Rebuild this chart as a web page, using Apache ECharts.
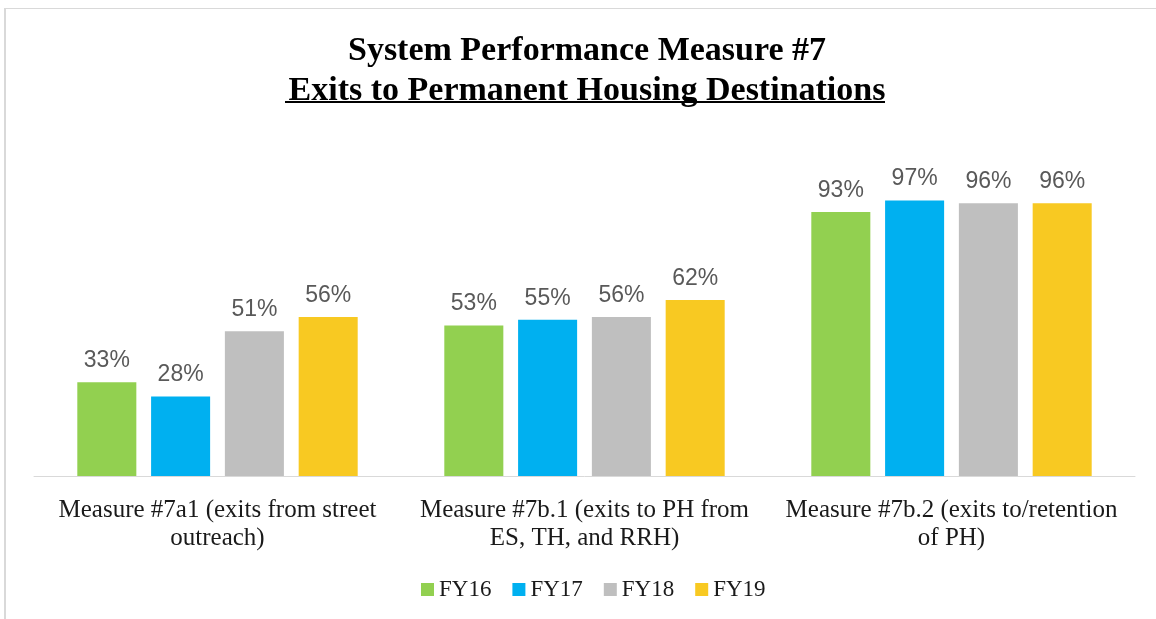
<!DOCTYPE html>
<html><head><meta charset="utf-8">
<script src="https://cdn.jsdelivr.net/npm/echarts@6/dist/echarts.min.js"></script>
<style>html,body{margin:0;padding:0;background:#fff}#c{width:1156px;height:619px}</style>
</head><body><div id="c"></div>
<script>
const categories = [
  "Measure #7a1 (exits from street\noutreach)",
  "Measure #7b.1 (exits to PH from\nES, TH, and RRH)",
  "Measure #7b.2 (exits to/retention\nof PH)"
];
const seriesNames = ["FY16", "FY17", "FY18", "FY19"];
const fy16 = [33, 53, 93];
const fy17 = [28, 55, 97];
const fy18 = [51, 56, 96];
const fy19 = [56, 62, 96];
const colors = ["#92D050", "#00B0F0", "#BFBFBF", "#F8C922"];
const titleLine1 = "System Performance Measure #7";
const titleLine2 = "Exits to Permanent Housing Destinations";

const values = [fy16, fy17, fy18, fy19];
const chart = echarts.init(document.getElementById('c'));
chart.setOption({
  animation: false,
  backgroundColor: '#fff',
  title: {
    text: titleLine1 + "\n" + titleLine2,
    left: 582, top: 26, textAlign: 'center',
    textStyle: { fontFamily: 'Liberation Serif', fontWeight: 'bold', fontSize: 34, lineHeight: 40, color: '#000' }
  },
  graphic: [
    { type: 'line', shape: { x1: 4, y1: 8.5, x2: 1156, y2: 8.5 }, style: { stroke: '#d9d9d9', lineWidth: 1 } },
    { type: 'line', shape: { x1: 5, y1: 8, x2: 5, y2: 619 }, style: { stroke: '#d9d9d9', lineWidth: 2 } },
    { type: 'line', shape: { x1: 285, y1: 102, x2: 885, y2: 102 }, style: { stroke: '#000', lineWidth: 2 } }
  ],
  legend: {
    data: seriesNames, bottom: 13, left: 416,
    icon: 'rect', itemWidth: 13, itemHeight: 13, itemGap: 21,
    textStyle: { fontFamily: 'Liberation Serif', fontSize: 23, color: '#1a1a1a' }
  },
  grid: { left: 34, right: 21, top: 192, bottom: 143, containLabel: false },
  xAxis: {
    type: 'category', data: categories,
    axisLine: { lineStyle: { color: '#d9d9d9', width: 1 } },
    axisTick: { show: false },
    axisLabel: { interval: 0, margin: 20, fontFamily: 'Liberation Serif', fontSize: 25, lineHeight: 28, color: '#1a1a1a' }
  },
  yAxis: { type: 'value', min: 0, max: 100, show: false, splitLine: { show: false } },
  series: seriesNames.map((n, i) => ({
    name: n, type: 'bar', data: values[i],
    barGap: '25%', barCategoryGap: '23.6%',
    itemStyle: { color: colors[i] },
    label: { show: true, position: 'top', distance: 10, formatter: '{c}%', fontFamily: 'Liberation Sans', fontSize: 23, color: '#595959' }
  }))
});
</script></body></html>
